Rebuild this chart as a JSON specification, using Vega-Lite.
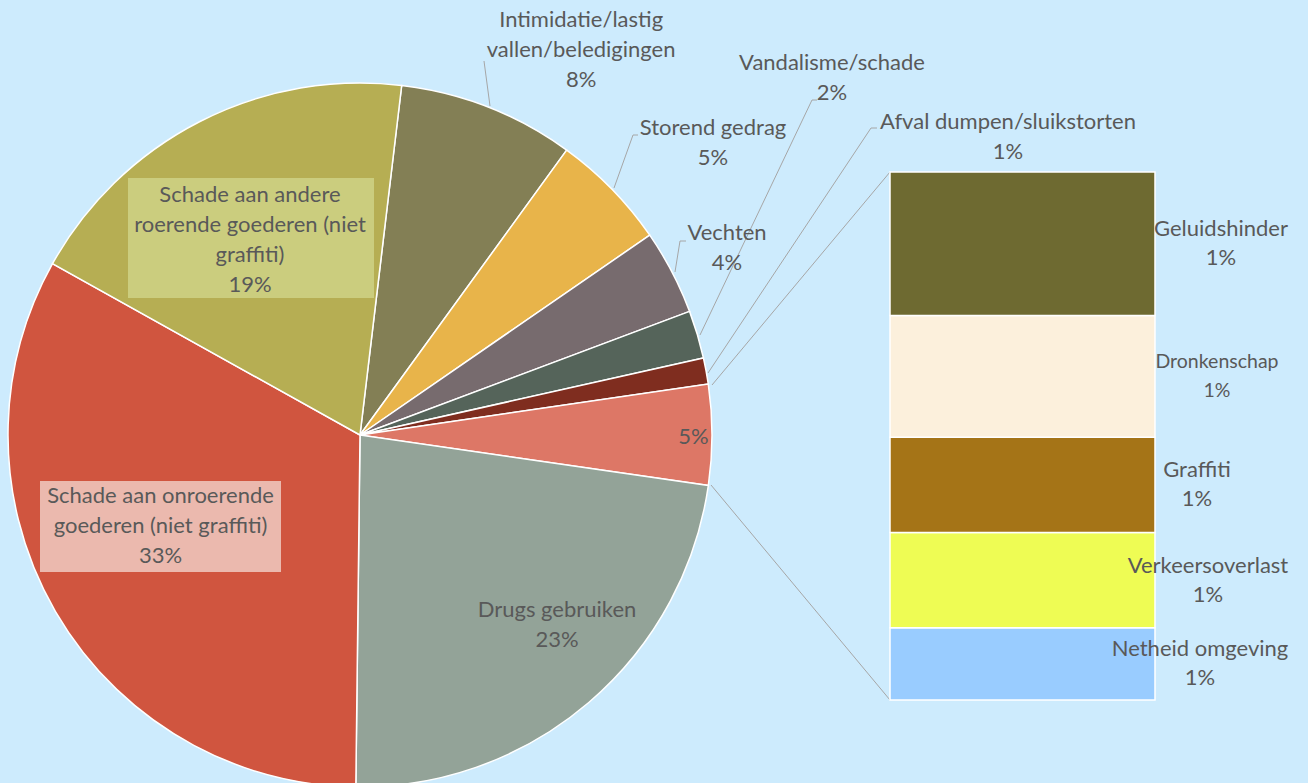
{
  "$schema": "https://vega.github.io/schema/vega-lite/v6.json",
  "width": 1308,
  "height": 783,
  "padding": 0,
  "autosize": {"type": "none"},
  "background": "#cdebfd",
  "config": {"view": {"stroke": null}},
  "datasets": {
    "pie": [
      {"categorie": "Intimidatie/lastig vallen/beledigingen", "label": "Intimidatie/lastig|vallen/beledigingen", "aandeel": 8.1, "volgorde": 1},
      {"categorie": "Storend gedrag", "label": "Storend gedrag", "aandeel": 5.4, "volgorde": 2},
      {"categorie": "Vechten", "label": "Vechten", "aandeel": 3.9, "volgorde": 3},
      {"categorie": "Vandalisme/schade", "label": "Vandalisme/schade", "aandeel": 2.2, "volgorde": 4},
      {"categorie": "Afval dumpen/sluikstorten", "label": "Afval dumpen/sluikstorten", "aandeel": 1.2, "volgorde": 5},
      {"categorie": "Overig", "label": "", "aandeel": 4.6, "volgorde": 6},
      {"categorie": "Drugs gebruiken", "label": "Drugs gebruiken", "aandeel": 22.9, "volgorde": 7},
      {"categorie": "Schade aan onroerende goederen (niet graffiti)", "label": "Schade aan onroerende|goederen (niet graffiti)", "aandeel": 32.9, "volgorde": 8},
      {"categorie": "Schade aan andere roerende goederen (niet graffiti)", "label": "Schade aan andere|roerende goederen (niet|graffiti)", "aandeel": 18.8, "volgorde": 9}
    ],
    "bar": [
      {"categorie": "Netheid omgeving", "aandeel": 0.63, "volgorde": 1},
      {"categorie": "Verkeersoverlast", "aandeel": 0.83, "volgorde": 2},
      {"categorie": "Graffiti", "aandeel": 0.83, "volgorde": 3},
      {"categorie": "Dronkenschap", "aandeel": 1.06, "volgorde": 4},
      {"categorie": "Geluidshinder", "aandeel": 1.25, "volgorde": 5}
    ]
  },
  "layer": [
    {
      "data": {"name": "pie"},
      "transform": [
        {"stack": "aandeel", "groupby": [], "sort": [{"field": "volgorde", "order": "ascending"}], "as": ["t0", "t1"]},
        {"calculate": "(datum.t0 + datum.t1) / 2", "as": "midden"},
        {"calculate": "datum.label === '' ? [round(datum.aandeel) + '%'] : split(datum.label + '|' + round(datum.aandeel) + '%', '|')", "as": "tekst"}
      ],
      "layer": [
        {
          "mark": {"type": "arc", "x": 360, "y": 435, "outerRadius": 352, "stroke": "#ffffff", "strokeWidth": 1.5},
          "encoding": {
            "theta": {"field": "t0", "type": "quantitative", "scale": {"domain": [0, 100], "range": [0.11868, 6.40187]}},
            "theta2": {"field": "t1"},
            "color": {
              "field": "categorie", "type": "nominal", "legend": null,
              "scale": {
                "domain": ["Intimidatie/lastig vallen/beledigingen", "Storend gedrag", "Vechten", "Vandalisme/schade", "Afval dumpen/sluikstorten", "Overig", "Drugs gebruiken", "Schade aan onroerende goederen (niet graffiti)", "Schade aan andere roerende goederen (niet graffiti)", "Netheid omgeving", "Verkeersoverlast", "Graffiti", "Dronkenschap", "Geluidshinder"],
                "range": ["#837f55", "#e8b44a", "#776b6e", "#55645a", "#7f2d1f", "#dd7766", "#93a398", "#d0553f", "#b6ae53", "#99ccff", "#eefc54", "#a57417", "#fcf0dc", "#6e6a31"]
              }
            }
          }
        },
        {"transform": [{"filter": "datum.volgorde === 8"}], "mark": {"type": "rect", "x": 40, "x2": 281, "y": 481, "y2": 572, "color": "#ebb9ae"}, "encoding": {}},
        {"transform": [{"filter": "datum.volgorde === 9"}], "mark": {"type": "rect", "x": 128, "x2": 374, "y": 178, "y2": 298, "color": "#cbcd7e"}, "encoding": {}},
        {"transform": [{"filter": "datum.volgorde === 1"}], "mark": {"type": "rule", "color": "#a6a6a6", "strokeWidth": 1}, "encoding": {"x": {"value": 490}, "y": {"value": 106}, "x2": {"value": 484}, "y2": {"value": 61}}},
        {"transform": [{"filter": "datum.volgorde === 2"}], "mark": {"type": "rule", "color": "#a6a6a6", "strokeWidth": 1}, "encoding": {"x": {"value": 614}, "y": {"value": 188}, "x2": {"value": 633}, "y2": {"value": 135}}},
        {"transform": [{"filter": "datum.volgorde === 2"}], "mark": {"type": "rule", "color": "#a6a6a6", "strokeWidth": 1}, "encoding": {"x": {"value": 633}, "y": {"value": 135}, "x2": {"value": 638}, "y2": {"value": 135}}},
        {"transform": [{"filter": "datum.volgorde === 3"}], "mark": {"type": "rule", "color": "#a6a6a6", "strokeWidth": 1}, "encoding": {"x": {"value": 675}, "y": {"value": 272}, "x2": {"value": 680}, "y2": {"value": 241}}},
        {"transform": [{"filter": "datum.volgorde === 3"}], "mark": {"type": "rule", "color": "#a6a6a6", "strokeWidth": 1}, "encoding": {"x": {"value": 680}, "y": {"value": 241}, "x2": {"value": 686}, "y2": {"value": 241}}},
        {"transform": [{"filter": "datum.volgorde === 4"}], "mark": {"type": "rule", "color": "#a6a6a6", "strokeWidth": 1}, "encoding": {"x": {"value": 700}, "y": {"value": 335}, "x2": {"value": 812}, "y2": {"value": 100}}},
        {"transform": [{"filter": "datum.volgorde === 4"}], "mark": {"type": "rule", "color": "#a6a6a6", "strokeWidth": 1}, "encoding": {"x": {"value": 812}, "y": {"value": 100}, "x2": {"value": 817}, "y2": {"value": 100}}},
        {"transform": [{"filter": "datum.volgorde === 5"}], "mark": {"type": "rule", "color": "#a6a6a6", "strokeWidth": 1}, "encoding": {"x": {"value": 708}, "y": {"value": 373}, "x2": {"value": 871}, "y2": {"value": 128}}},
        {"transform": [{"filter": "datum.volgorde === 5"}], "mark": {"type": "rule", "color": "#a6a6a6", "strokeWidth": 1}, "encoding": {"x": {"value": 871}, "y": {"value": 128}, "x2": {"value": 877}, "y2": {"value": 128}}},
        {"transform": [{"filter": "datum.volgorde === 6"}], "mark": {"type": "rule", "color": "#a6a6a6", "strokeWidth": 1}, "encoding": {"x": {"value": 712}, "y": {"value": 385}, "x2": {"value": 890}, "y2": {"value": 172}}},
        {"transform": [{"filter": "datum.volgorde === 6"}], "mark": {"type": "rule", "color": "#a6a6a6", "strokeWidth": 1}, "encoding": {"x": {"value": 711}, "y": {"value": 485}, "x2": {"value": 890}, "y2": {"value": 700}}},
        {
          "transform": [{"filter": "datum.volgorde === 1"}],
          "mark": {"type": "text", "x": 360, "y": 435, "radius": 420, "dx": 68, "dy": -24, "font": "Lato", "fontSize": 22, "lineHeight": 30, "color": "#595959", "align": "center", "baseline": "middle"},
          "encoding": {"theta": {"field": "midden", "type": "quantitative", "scale": {"domain": [0, 100], "range": [0.11868, 6.40187]}}, "text": {"field": "tekst"}}
        },
        {
          "transform": [{"filter": "datum.volgorde === 2"}],
          "mark": {"type": "text", "x": 360, "y": 435, "radius": 420, "dx": 52.5, "dy": -14, "font": "Lato", "fontSize": 22, "lineHeight": 30, "color": "#595959", "align": "center", "baseline": "middle"},
          "encoding": {"theta": {"field": "midden", "type": "quantitative", "scale": {"domain": [0, 100], "range": [0.11868, 6.40187]}}, "text": {"field": "tekst"}}
        },
        {
          "transform": [{"filter": "datum.volgorde === 3"}],
          "mark": {"type": "text", "x": 360, "y": 435, "radius": 400, "dx": 12.5, "dy": -17, "font": "Lato", "fontSize": 22, "lineHeight": 30, "color": "#595959", "align": "center", "baseline": "middle"},
          "encoding": {"theta": {"field": "midden", "type": "quantitative", "scale": {"domain": [0, 100], "range": [0.11868, 6.40187]}}, "text": {"field": "tekst"}}
        },
        {
          "transform": [{"filter": "datum.volgorde === 4"}],
          "mark": {"type": "text", "x": 360, "y": 435, "radius": 420, "dx": 69.5, "dy": -252, "font": "Lato", "fontSize": 22, "lineHeight": 30, "color": "#595959", "align": "center", "baseline": "middle"},
          "encoding": {"theta": {"field": "midden", "type": "quantitative", "scale": {"domain": [0, 100], "range": [0.11868, 6.40187]}}, "text": {"field": "tekst"}}
        },
        {
          "transform": [{"filter": "datum.volgorde === 5"}],
          "mark": {"type": "text", "x": 360, "y": 435, "radius": 420, "dx": 235, "dy": -237, "font": "Lato", "fontSize": 22, "lineHeight": 30, "color": "#595959", "align": "center", "baseline": "middle"},
          "encoding": {"theta": {"field": "midden", "type": "quantitative", "scale": {"domain": [0, 100], "range": [0.11868, 6.40187]}}, "text": {"field": "tekst"}}
        },
        {
          "transform": [{"filter": "datum.volgorde === 6"}],
          "mark": {"type": "text", "x": 360, "y": 435, "radius": 333, "dx": 0.5, "dy": 2, "font": "Lato", "fontSize": 22, "lineHeight": 30, "color": "#595959", "align": "center", "baseline": "middle"},
          "encoding": {"theta": {"field": "midden", "type": "quantitative", "scale": {"domain": [0, 100], "range": [0.11868, 6.40187]}}, "text": {"field": "tekst"}}
        },
        {
          "transform": [{"filter": "datum.volgorde === 7"}],
          "mark": {"type": "text", "x": 360, "y": 435, "radius": 270, "dx": 21.5, "dy": -30, "font": "Lato", "fontSize": 22, "lineHeight": 30, "color": "#595959", "align": "center", "baseline": "middle"},
          "encoding": {"theta": {"field": "midden", "type": "quantitative", "scale": {"domain": [0, 100], "range": [0.11868, 6.40187]}}, "text": {"field": "tekst"}}
        },
        {
          "transform": [{"filter": "datum.volgorde === 8"}],
          "mark": {"type": "text", "x": 360, "y": 435, "radius": 230, "dx": -0.5, "dy": -54, "font": "Lato", "fontSize": 22, "lineHeight": 30, "color": "#595959", "align": "center", "baseline": "middle"},
          "encoding": {"theta": {"field": "midden", "type": "quantitative", "scale": {"domain": [0, 100], "range": [0.11868, 6.40187]}}, "text": {"field": "tekst"}}
        },
        {
          "transform": [{"filter": "datum.volgorde === 9"}],
          "mark": {"type": "text", "x": 360, "y": 435, "radius": 220, "dx": -10, "dy": -44.5, "font": "Lato", "fontSize": 22, "lineHeight": 30, "color": "#595959", "align": "center", "baseline": "middle"},
          "encoding": {"theta": {"field": "midden", "type": "quantitative", "scale": {"domain": [0, 100], "range": [0.11868, 6.40187]}}, "text": {"field": "tekst"}}
        }
      ]
    },
    {
      "data": {"name": "bar"},
      "transform": [
        {"stack": "aandeel", "groupby": [], "sort": [{"field": "volgorde", "order": "ascending"}], "as": ["b0", "b1"]},
        {"calculate": "(datum.b0 + datum.b1) / 2", "as": "bmidden"},
        {"calculate": "[datum.categorie, round(datum.aandeel) + '%']", "as": "tekst"}
      ],
      "layer": [
        {
          "mark": {"type": "rect", "x": 890, "x2": 1155, "stroke": "#ffffff", "strokeWidth": 1.5},
          "encoding": {
            "y": {"field": "b0", "type": "quantitative", "axis": null, "scale": {"domain": [-0.7231, 6.0984], "nice": false, "zero": false}},
            "y2": {"field": "b1"},
            "color": {
              "field": "categorie", "type": "nominal", "legend": null,
              "scale": {
                "domain": ["Intimidatie/lastig vallen/beledigingen", "Storend gedrag", "Vechten", "Vandalisme/schade", "Afval dumpen/sluikstorten", "Overig", "Drugs gebruiken", "Schade aan onroerende goederen (niet graffiti)", "Schade aan andere roerende goederen (niet graffiti)", "Netheid omgeving", "Verkeersoverlast", "Graffiti", "Dronkenschap", "Geluidshinder"],
                "range": ["#837f55", "#e8b44a", "#776b6e", "#55645a", "#7f2d1f", "#dd7766", "#93a398", "#d0553f", "#b6ae53", "#99ccff", "#eefc54", "#a57417", "#fcf0dc", "#6e6a31"]
              }
            }
          }
        },
        {
          "transform": [{"filter": "datum.volgorde === 5"}],
          "mark": {"type": "text", "x": 1221, "dy": -14.5, "font": "Lato", "fontSize": 22, "lineHeight": 29, "color": "#595959", "align": "center", "baseline": "middle"},
          "encoding": {"y": {"field": "bmidden", "type": "quantitative", "axis": null, "scale": {"domain": [-0.7231, 6.0984], "nice": false, "zero": false}}, "text": {"field": "tekst"}}
        },
        {
          "transform": [{"filter": "datum.volgorde === 4"}],
          "mark": {"type": "text", "x": 1217, "dy": -14.5, "font": "Lato", "fontSize": 19.5, "lineHeight": 29, "color": "#595959", "align": "center", "baseline": "middle"},
          "encoding": {"y": {"field": "bmidden", "type": "quantitative", "axis": null, "scale": {"domain": [-0.7231, 6.0984], "nice": false, "zero": false}}, "text": {"field": "tekst"}}
        },
        {
          "transform": [{"filter": "datum.volgorde === 3"}],
          "mark": {"type": "text", "x": 1197, "dy": -14.5, "font": "Lato", "fontSize": 22, "lineHeight": 29, "color": "#595959", "align": "center", "baseline": "middle"},
          "encoding": {"y": {"field": "bmidden", "type": "quantitative", "axis": null, "scale": {"domain": [-0.7231, 6.0984], "nice": false, "zero": false}}, "text": {"field": "tekst"}}
        },
        {
          "transform": [{"filter": "datum.volgorde === 2"}],
          "mark": {"type": "text", "x": 1208, "dy": -14.5, "font": "Lato", "fontSize": 22, "lineHeight": 29, "color": "#595959", "align": "center", "baseline": "middle"},
          "encoding": {"y": {"field": "bmidden", "type": "quantitative", "axis": null, "scale": {"domain": [-0.7231, 6.0984], "nice": false, "zero": false}}, "text": {"field": "tekst"}}
        },
        {
          "transform": [{"filter": "datum.volgorde === 1"}],
          "mark": {"type": "text", "x": 1200, "dy": -14.5, "font": "Lato", "fontSize": 22, "lineHeight": 29, "color": "#595959", "align": "center", "baseline": "middle"},
          "encoding": {"y": {"field": "bmidden", "type": "quantitative", "axis": null, "scale": {"domain": [-0.7231, 6.0984], "nice": false, "zero": false}}, "text": {"field": "tekst"}}
        }
      ]
    }
  ]
}
